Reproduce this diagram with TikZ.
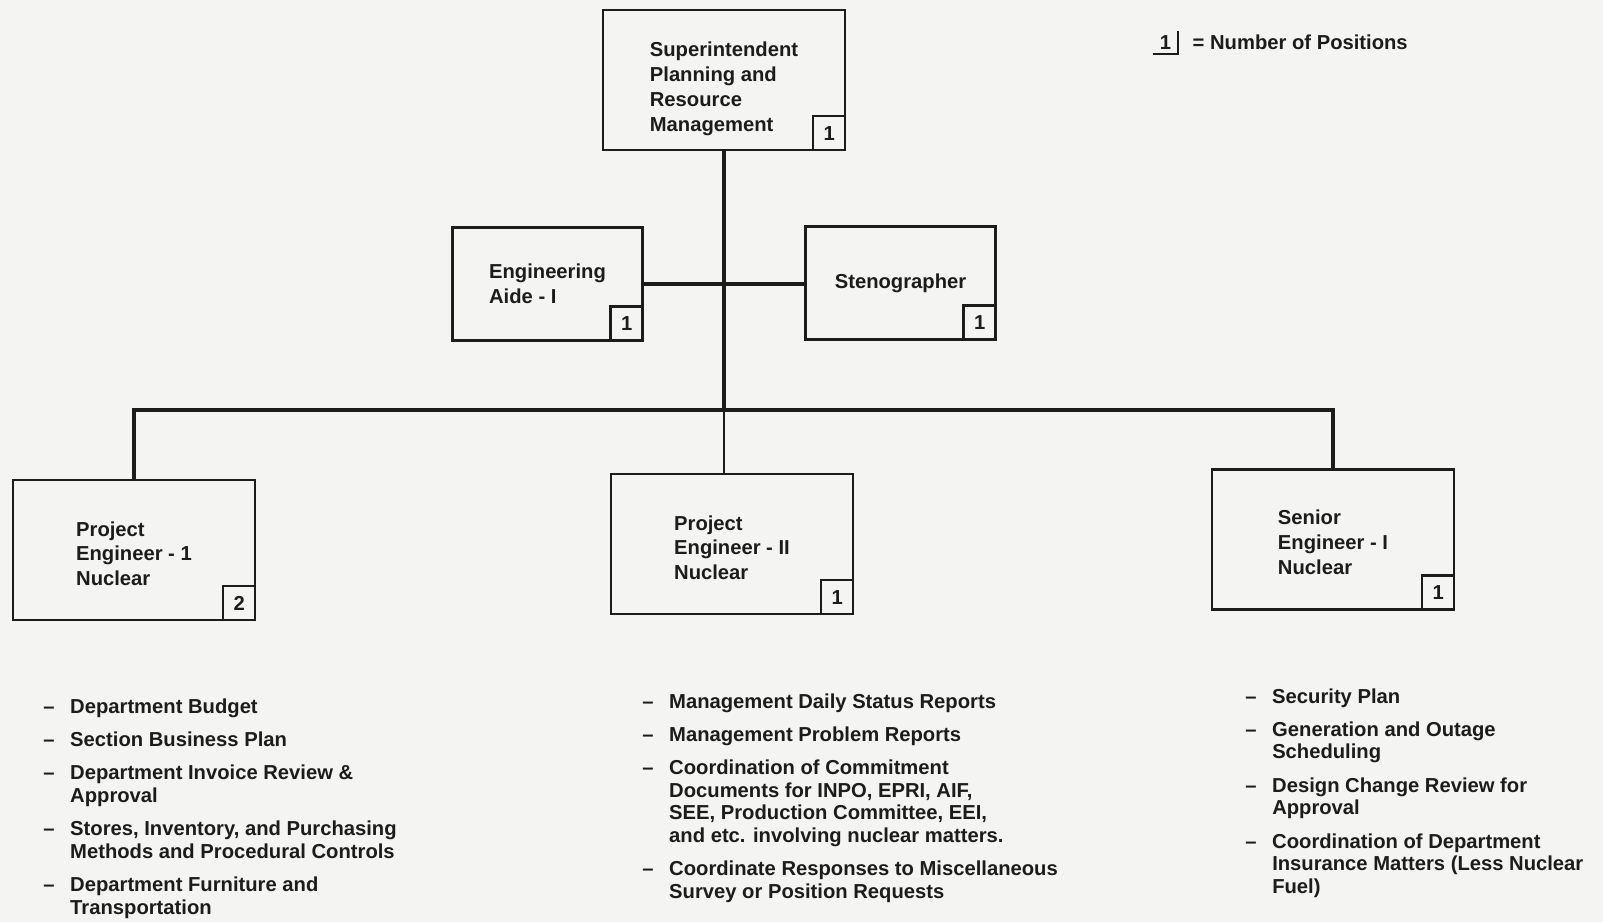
\documentclass[tikz,border=0pt]{standalone}
\usepackage{fontspec}
\setmainfont{Liberation Sans}
\usepackage{xcolor}
\usepackage{tikz}
\usetikzlibrary{positioning}
\definecolor{OrgInk}{HTML}{1C1C1C}
\definecolor{OrgPaper}{HTML}{F4F4F2}

\begin{document}
\begin{tikzpicture}[
  post/.style={draw=OrgInk,line width=1.6pt,minimum width=4.84cm,minimum height=2.8cm,align=left,text=OrgInk,font=\fontsize{11.5}{14.2}\selectfont\bfseries},
  smallpost/.style={post,minimum width=3.8cm,minimum height=2.26cm},
  count/.style={draw=OrgInk,line width=1.4pt,minimum width=0.64cm,minimum height=0.68cm,inner sep=0pt,anchor=south east,text=OrgInk,font=\fontsize{11.5}{14}\selectfont\bfseries},
  link/.style={draw=OrgInk,line width=1.8pt},
  thinlink/.style={draw=OrgInk,line width=0.9pt},
  duty/.style={anchor=base west,inner sep=0pt,align=left,text=OrgInk,font=\fontsize{11.5}{12.8}\selectfont\bfseries},
]
\useasboundingbox[fill=OrgPaper] (0,0) rectangle (32.06,-18.44);

% positions
\node[post,text height=61pt] (sup) at (14.48,-1.60) {Superintendent\\Planning and\\Resource\\Management};
\node[count] (supn) at (sup.south east) {1};
\node[smallpost] (aide) at (10.95,-5.68) {Engineering\\Aide - I};
\node[count] (aiden) at (aide.south east) {1};
\node[smallpost] (steno) at (18.01,-5.66) {Stenographer};
\node[count] (stenon) at (steno.south east) {1};
\node[post,text height=41pt] (pe1) at (2.68,-11.0) {Project\\Engineer - 1\\Nuclear};
\node[count] (pe1n) at (pe1.south east) {2};
\node[post,text height=41pt] (pe2) at (14.64,-10.88) {Project\\Engineer - II\\Nuclear};
\node[count] (pe2n) at (pe2.south east) {1};
\node[post,text height=40pt] (se1) at (26.66,-10.79) {Senior\\Engineer - I\\Nuclear};
\node[count] (se1n) at (se1.south east) {1};

% lines
\coordinate (bar) at (sup.south |- 0,-8.2);
\draw[link] (sup.south) -- (bar);
\draw[thinlink] (bar) -- (bar |- pe2.north);
\draw[link] (aide.east) -- (aide.east -| steno.west);
\draw[link] (pe1.north) |- (bar) -| (se1.north);

% legend
\node[inner sep=0pt,minimum width=0.5cm,minimum height=0.46cm,text=OrgInk,font=\fontsize{11.5}{14}\selectfont\bfseries] (key) at (23.31,-0.85) {1};
\draw[OrgInk,line width=1pt] (key.south west) -- (key.south east) -- (key.north east);
\node[right=0.28cm of key,inner sep=0pt,text=OrgInk,font=\fontsize{11.5}{14}\selectfont\bfseries] (keytext) {= Number of Positions};

% duties
\node[duty] (duties1) at (0.86,-14.26) {\begin{tabular}[t]{@{}p{15.3pt}@{}l@{}}
-- & Department Budget\\[6.2pt]
-- & Section Business Plan\\[6.2pt]
-- & Department Invoice Review \&\\
   & Approval\\[6.2pt]
-- & Stores, Inventory, and Purchasing\\
   & Methods and Procedural Controls\\[6.2pt]
-- & Department Furniture and\\
   & Transportation
\end{tabular}};
\node[duty] (duties2) at (12.84,-14.16) {\begin{tabular}[t]{@{}p{15.3pt}@{}l@{}}
-- & Management Daily Status Reports\\[6.2pt]
-- & Management Problem Reports\\[6.2pt]
-- & Coordination of Commitment\\
   & Documents for INPO, EPRI, AIF,\\
   & SEE, Production Committee, EEI,\\
   & and etc. involving nuclear matters.\\[6.2pt]
-- & Coordinate Responses to Miscellaneous\\
   & Survey or Position Requests
\end{tabular}};
\node[duty] (duties3) at (24.9,-14.06) {\begin{tabular}[t]{@{}p{15.3pt}@{}l@{}}
-- & Security Plan\\[6.2pt]
-- & Generation and Outage\\
   & Scheduling\\[6.2pt]
-- & Design Change Review for\\
   & Approval\\[6.2pt]
-- & Coordination of Department\\
   & Insurance Matters (Less Nuclear\\
   & Fuel)
\end{tabular}};
\end{tikzpicture}
\end{document}
